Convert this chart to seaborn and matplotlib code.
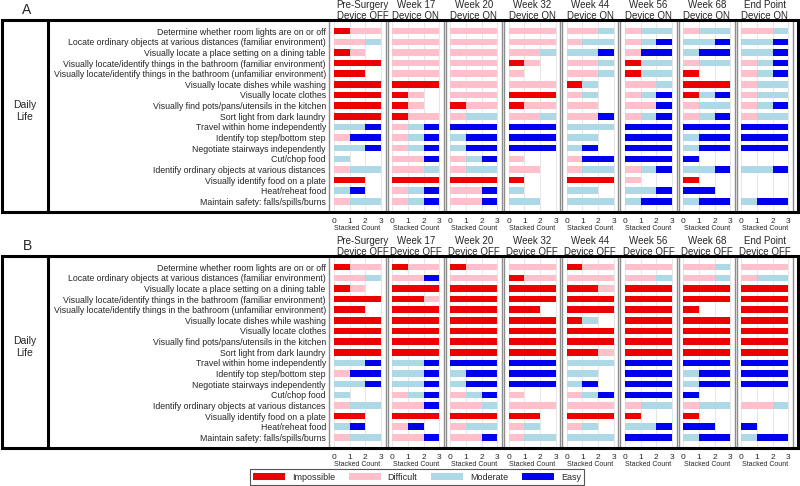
import pandas as pd
import seaborn as sns
import matplotlib.pyplot as plt
from matplotlib.patches import Patch, Rectangle
from matplotlib.lines import Line2D

# --- Data ---
TASKS = [
    "Determine whether room lights are on or off",
    "Locate ordinary objects at various distances (familiar environment)",
    "Visually locate a place setting on a dining table",
    "Visually locate/identify things in the bathroom (familiar environment)",
    "Visually locate/identify things in the bathroom (unfamiliar environment)",
    "Visually locate dishes while washing",
    "Visually locate clothes",
    "Visually find pots/pans/utensils in the kitchen",
    "Sort light from dark laundry",
    "Travel within home independently",
    "Identify top step/bottom step",
    "Negotiate stairways independently",
    "Cut/chop food",
    "Identify ordinary objects at various distances",
    "Visually identify food on a plate",
    "Heat/reheat food",
    "Maintain safety: falls/spills/burns",
]
TIMEPOINTS = ["Pre-Surgery", "Week 17", "Week 20", "Week 32",
              "Week 44", "Week 56", "Week 68", "End Point"]
LEVELS = ["Impossible", "Difficult", "Moderate", "Easy"]
LEVEL_COLORS = ["#ee0000", "#ffc0cb", "#add8e6", "#0000ee"]

# counts per task: [Impossible, Difficult, Moderate, Easy]
PRE = [[1, 2, 0, 0], [0, 2, 1, 0], [1, 1, 0, 0], [3, 0, 0, 0], [2, 0, 0, 0],
       [3, 0, 0, 0], [3, 0, 0, 0], [3, 0, 0, 0], [3, 0, 0, 0], [0, 0, 2, 1],
       [0, 1, 0, 2], [0, 0, 2, 1], [0, 0, 1, 0], [0, 1, 2, 0], [2, 0, 0, 0],
       [0, 0, 1, 1], [0, 1, 2, 0]]

# Panel A: device ON
A_W17 = [[0, 3, 0, 0], [0, 3, 0, 0], [0, 3, 0, 0], [0, 3, 0, 0], [0, 3, 0, 0],
         [3, 0, 0, 0], [1, 1, 0, 0], [1, 1, 0, 0], [1, 2, 0, 0], [0, 1, 1, 1],
         [0, 1, 1, 1], [0, 1, 1, 1], [0, 2, 0, 1], [0, 2, 1, 0], [3, 0, 0, 0],
         [0, 1, 1, 1], [0, 1, 1, 1]]
A_W20 = [[0, 3, 0, 0], [0, 3, 0, 0], [0, 3, 0, 0], [0, 3, 0, 0], [0, 3, 0, 0],
         [0, 3, 0, 0], [0, 3, 0, 0], [1, 2, 0, 0], [0, 1, 2, 0], [0, 0, 0, 3],
         [0, 0, 1, 2], [0, 0, 1, 2], [0, 1, 1, 1], [0, 1, 2, 0], [3, 0, 0, 0],
         [0, 2, 0, 1], [0, 2, 0, 1]]
A_W32 = [[0, 3, 0, 0], [0, 3, 0, 0], [0, 2, 1, 0], [1, 1, 0, 0], [0, 1, 0, 0],
         [0, 3, 0, 0], [3, 0, 0, 0], [1, 2, 0, 0], [0, 2, 1, 0], [0, 0, 0, 3],
         [0, 0, 0, 3], [0, 0, 0, 3], [0, 1, 0, 0], [0, 2, 0, 0], [1, 0, 0, 0],
         [0, 0, 1, 0], [0, 0, 2, 0]]
A_W44 = [[0, 2, 1, 0], [0, 1, 2, 0], [0, 0, 2, 1], [0, 2, 1, 0], [0, 2, 1, 0],
         [1, 0, 1, 0], [0, 1, 1, 0], [0, 2, 0, 0], [0, 2, 0, 1], [0, 0, 3, 0],
         [0, 0, 2, 0], [0, 0, 1, 1], [0, 1, 0, 2], [0, 1, 2, 0], [3, 0, 0, 0],
         [0, 0, 2, 0], [0, 0, 3, 0]]
A_W56 = [[0, 1, 2, 0], [0, 1, 1, 1], [0, 1, 0, 2], [1, 0, 2, 0], [1, 0, 2, 0],
         [0, 2, 1, 0], [0, 1, 1, 1], [0, 2, 0, 1], [0, 1, 1, 1], [0, 0, 0, 3],
         [0, 0, 0, 3], [0, 0, 0, 3], [0, 0, 0, 3], [0, 1, 1, 1], [0, 1, 0, 0],
         [0, 0, 2, 1], [0, 0, 1, 2]]
A_W68 = [[0, 1, 2, 0], [0, 0, 2, 1], [0, 0, 1, 2], [0, 1, 2, 0], [1, 0, 0, 0],
         [3, 0, 0, 0], [1, 0, 1, 1], [0, 1, 2, 0], [0, 1, 1, 1], [0, 0, 0, 3],
         [0, 0, 1, 2], [0, 0, 1, 2], [0, 0, 0, 1], [0, 0, 2, 1], [1, 0, 0, 0],
         [0, 0, 0, 2], [0, 0, 1, 2]]
A_END = [[0, 2, 1, 0], [0, 0, 2, 1], [0, 0, 2, 1], [0, 1, 1, 1], [0, 1, 1, 1],
         [0, 1, 2, 0], [0, 1, 2, 0], [0, 1, 1, 1], [0, 1, 2, 0], [0, 0, 0, 3],
         [0, 0, 0, 3], [0, 0, 0, 3], [0, 0, 0, 0], [0, 0, 2, 1], [0, 0, 0, 0],
         [0, 0, 0, 0], [0, 0, 1, 2]]

# Panel B: device OFF
B_W17 = [[1, 2, 0, 0], [0, 2, 0, 1], [3, 0, 0, 0], [2, 1, 0, 0], [3, 0, 0, 0],
         [3, 0, 0, 0], [3, 0, 0, 0], [3, 0, 0, 0], [3, 0, 0, 0], [0, 0, 2, 1],
         [0, 0, 2, 1], [0, 0, 2, 1], [0, 1, 1, 1], [0, 2, 0, 1], [3, 0, 0, 0],
         [0, 1, 0, 1], [0, 2, 0, 1]]
B_W20 = [[1, 2, 0, 0], [0, 3, 0, 0], [3, 0, 0, 0], [3, 0, 0, 0], [3, 0, 0, 0],
         [3, 0, 0, 0], [3, 0, 0, 0], [3, 0, 0, 0], [3, 0, 0, 0], [0, 0, 0, 3],
         [0, 0, 1, 2], [0, 0, 1, 2], [0, 1, 1, 1], [0, 2, 1, 0], [3, 0, 0, 0],
         [0, 1, 2, 0], [0, 2, 0, 1]]
B_W32 = [[0, 3, 0, 0], [1, 2, 0, 0], [3, 0, 0, 0], [3, 0, 0, 0], [2, 0, 0, 0],
         [3, 0, 0, 0], [3, 0, 0, 0], [3, 0, 0, 0], [3, 0, 0, 0], [0, 0, 0, 3],
         [0, 0, 0, 3], [0, 0, 0, 3], [0, 1, 0, 0], [0, 3, 0, 0], [2, 0, 0, 0],
         [0, 1, 1, 0], [0, 1, 2, 0]]
B_W44 = [[1, 2, 0, 0], [0, 3, 0, 0], [2, 1, 0, 0], [3, 0, 0, 0], [3, 0, 0, 0],
         [1, 0, 1, 0], [3, 0, 0, 0], [3, 0, 0, 0], [2, 1, 0, 0], [0, 0, 3, 0],
         [0, 0, 2, 0], [0, 0, 1, 1], [0, 1, 1, 1], [0, 3, 0, 0], [3, 0, 0, 0],
         [0, 1, 1, 0], [0, 0, 3, 0]]
B_W56 = [[0, 3, 0, 0], [0, 2, 1, 0], [3, 0, 0, 0], [3, 0, 0, 0], [3, 0, 0, 0],
         [3, 0, 0, 0], [3, 0, 0, 0], [3, 0, 0, 0], [3, 0, 0, 0], [0, 0, 0, 3],
         [0, 0, 0, 3], [0, 0, 0, 3], [0, 0, 0, 3], [0, 1, 2, 0], [1, 0, 0, 0],
         [0, 0, 2, 1], [0, 0, 0, 3]]
B_W68 = [[0, 2, 1, 0], [0, 2, 1, 0], [3, 0, 0, 0], [3, 0, 0, 0], [1, 0, 0, 0],
         [3, 0, 0, 0], [3, 0, 0, 0], [3, 0, 0, 0], [3, 0, 0, 0], [0, 0, 0, 3],
         [0, 0, 1, 2], [0, 0, 1, 2], [0, 0, 0, 1], [0, 1, 2, 0], [1, 0, 0, 0],
         [0, 0, 0, 2], [0, 0, 1, 2]]
B_END = [[0, 3, 0, 0], [0, 1, 2, 0], [3, 0, 0, 0], [3, 0, 0, 0], [3, 0, 0, 0],
         [3, 0, 0, 0], [3, 0, 0, 0], [3, 0, 0, 0], [3, 0, 0, 0], [0, 0, 0, 3],
         [0, 0, 0, 3], [0, 0, 0, 3], [0, 0, 0, 0], [0, 2, 1, 0], [0, 0, 0, 0],
         [0, 0, 0, 1], [0, 0, 1, 2]]

PANEL_A = [PRE, A_W17, A_W20, A_W32, A_W44, A_W56, A_W68, A_END]
PANEL_B = [PRE, B_W17, B_W20, B_W32, B_W44, B_W56, B_W68, B_END]
DEVICE_A = ["Device OFF"] + ["Device ON"] * 7
DEVICE_B = ["Device OFF"] * 8

# --- Layout (pixels on an 800x486 canvas) ---
W, H = 800, 486
X0 = 334          # x position of count 0 in first column
COL_STEP = 58.2   # spacing between columns
PX_PER_UNIT = 47 / 3
XLIM = (-0.3, 3.3)


def fx(px):
    return px / W


def fy(py):
    return 1 - py / H


def to_frame(rows):
    df = pd.DataFrame(rows, columns=LEVELS)
    df.insert(0, "Task", TASKS)
    return df


def draw_panel(fig, panel, devices, top, bottom, letter):
    for k, (rows, tp, dev) in enumerate(zip(panel, TIMEPOINTS, devices)):
        df = to_frame(rows)
        left = X0 + k * COL_STEP + XLIM[0] * PX_PER_UNIT
        width = (XLIM[1] - XLIM[0]) * PX_PER_UNIT
        ax = fig.add_axes([fx(left), fy(bottom), width / W, (bottom - top) / H])

        # overlapping cumulative bars give the stacked look
        cum = df[LEVELS].cumsum(axis=1)
        for lvl, col in reversed(list(zip(LEVELS, LEVEL_COLORS))):
            sns.barplot(x=cum[lvl], y=df["Task"], order=TASKS, orient="h",
                        color=col, saturation=1, width=0.62, errorbar=None,
                        linewidth=0, ax=ax)

        ax.set_xlim(*XLIM)
        ax.set_ylim(17.0, -1.05)
        ax.set_xticks([0, 1, 2, 3])
        ax.grid(axis="x", color="#e2e2e2", lw=0.6)
        ax.grid(axis="y", visible=False)
        ax.set_axisbelow(True)
        ax.set_ylabel("")
        ax.set_xlabel("Stacked Count", fontsize=5, labelpad=0.3)
        ax.tick_params(axis="x", length=0, pad=4.2, labelsize=6)
        ax.tick_params(axis="y", length=0, pad=2.5, labelsize=6.3)
        if k > 0:
            ax.set_yticklabels([])
        for side in ["top", "bottom"]:
            ax.spines[side].set_visible(False)
        for side in ["left", "right"]:
            ax.spines[side].set_visible(True)
            ax.spines[side].set_color("#8c8c8c")
            ax.spines[side].set_linewidth(1.0)
        # first title sits a little to the right in the original figure
        tx = 0.5 + (5 / width if k == 0 else 0)
        ax.set_title(f"{tp}\n{dev}", fontsize=7, pad=0.9, linespacing=1.05,
                     x=tx)

    # thick frame around the panel and the row-group label
    fig.add_artist(Rectangle((fx(2), fy(bottom)), fx(796), (bottom - top) / H,
                             transform=fig.transFigure, fill=False,
                             edgecolor="black", lw=2.2, zorder=10))
    fig.add_artist(Line2D([fx(48), fx(48)], [fy(top), fy(bottom)],
                          transform=fig.transFigure, color="black", lw=2.2,
                          zorder=10))
    fig.text(fx(25), fy((top + bottom) / 2 - 5), "Daily\nLife", ha="center",
             va="center", fontsize=7.5, linespacing=1.2)
    fig.text(fx(27), fy(top - 10), letter, ha="center", va="center",
             fontsize=10)


sns.set_style("white")
plt.rcParams["font.family"] = ["Liberation Sans", "DejaVu Sans"]

fig = plt.figure(figsize=(8, 4.86), dpi=100)
draw_panel(fig, PANEL_A, DEVICE_A, 20, 212, "A")
draw_panel(fig, PANEL_B, DEVICE_B, 256, 448, "B")

handles = [Patch(facecolor=c, edgecolor="none", label=l)
           for l, c in zip(LEVELS, LEVEL_COLORS)]
fig.legend(handles=handles, loc="center", ncol=4,
           bbox_to_anchor=(fx(417), fy(477)), fontsize=6.5,
           frameon=True, fancybox=False, edgecolor="#555555", framealpha=1,
           handlelength=3.55, handleheight=0.8, handletextpad=0.75,
           columnspacing=1.55, borderpad=0.35, borderaxespad=0)
fig.legends[0].get_frame().set_linewidth(0.8)

fig.savefig("out.png", dpi=100)
